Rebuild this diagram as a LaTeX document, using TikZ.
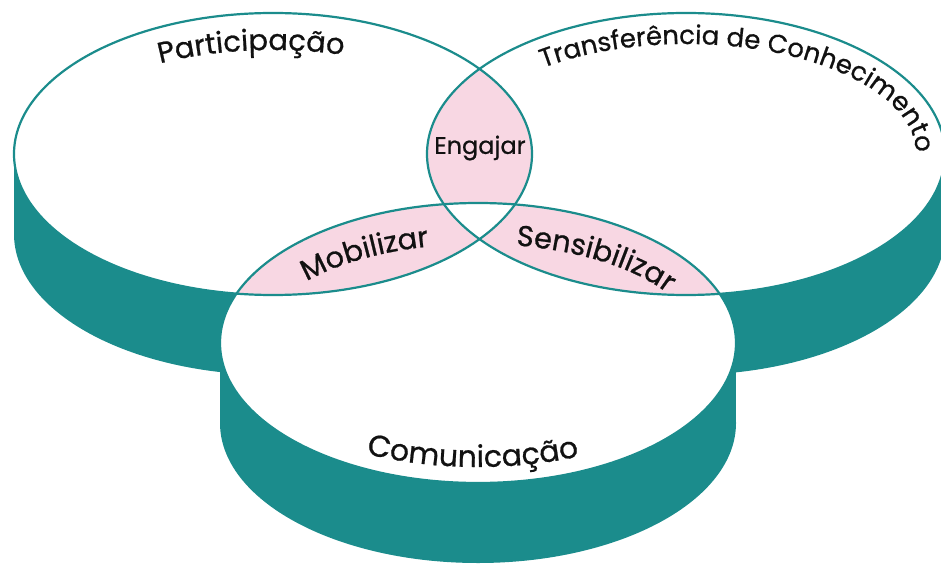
\documentclass[tikz,border=0pt]{standalone}
\usepackage{fontspec}
\setmainfont{Poppins}[FakeBold=0.7]
\usetikzlibrary{decorations.text}
\definecolor{tealc}{HTML}{1B8C8C}
\definecolor{pinkc}{HTML}{F8D7E3}
\definecolor{inkc}{HTML}{111111}
\newcommand\bigfont{\fontsize{29}{33}\selectfont}
\newcommand\combfont{\fontsize{30}{34}\selectfont}
\newcommand\trfont{\fontsize{26}{30}\selectfont}
\newcommand\smallfont{\fontsize{24}{28}\selectfont}
\begin{document}
\begin{tikzpicture}[x=1pt,y=1pt,
  wall/.style={fill=tealc},
  face/.style={fill=white},
  rim/.style={draw=tealc,line width=2.2pt},
  lens/.style={fill=pinkc},
  arctext/.style={decorate,decoration={text along path,text align=left,text color=inkc}}]
\useasboundingbox (0,0) rectangle (941,563);
\clip (0,0) rectangle (941,563);
\coordinate (L) at (273,409);
\coordinate (R) at (686,409);
\coordinate (B) at (478,220);
% walls
\fill[wall] (14,329) rectangle (532,409);
\fill[wall] ([yshift=-80pt]L) ellipse [x radius=259,y radius=141];
\fill[wall] (427,329) rectangle (945,409);
\fill[wall] ([yshift=-80pt]R) ellipse [x radius=259,y radius=141];
\fill[wall] (220,140) rectangle (736,220);
\fill[wall] ([yshift=-80pt]B) ellipse [x radius=258,y radius=140];
% faces
\fill[face] (L) ellipse [x radius=259,y radius=141];
\fill[face] (R) ellipse [x radius=259,y radius=141];
\fill[face] (B) ellipse [x radius=258,y radius=140];
% lenses
\begin{scope}
  \clip (L) ellipse [x radius=259,y radius=141];
  \fill[lens] (R) ellipse [x radius=259,y radius=141];
  \fill[lens] (B) ellipse [x radius=258,y radius=140];
\end{scope}
\begin{scope}
  \clip (R) ellipse [x radius=259,y radius=141];
  \fill[lens] (B) ellipse [x radius=258,y radius=140];
\end{scope}
\begin{scope}
  \clip (L) ellipse [x radius=259,y radius=141];
  \clip (R) ellipse [x radius=259,y radius=141];
  \fill[face] (B) ellipse [x radius=258,y radius=140];
\end{scope}
% rims
\draw[rim] (L) ellipse [x radius=259,y radius=141];
\draw[rim] (R) ellipse [x radius=259,y radius=141];
\draw[rim] (B) ellipse [x radius=258,y radius=140];
% labels
\path[arctext,decoration={text={|\bigfont|Participação}}]
  (L) ++(119.4:230 and 104) arc[start angle=119.4,end angle=10,x radius=230,y radius=104];
\path[arctext,decoration={text={|\trfont|Transferência de Conhecimento}}]
  (R) ++(128.4:230 and 110) arc[start angle=128.4,end angle=-40,x radius=230,y radius=110];
\path[arctext,decoration={text={|\combfont|Comunicação}}]
  (B) ++(243.4:250 and 124) arc[start angle=243.4,end angle=340,x radius=250,y radius=124];
\path[arctext,decoration={text={|\bigfont|Mobilizar}}]
  (B) ++(141.5:219 and 99) arc[start angle=141.5,end angle=75,x radius=219,y radius=99];
\path[arctext,decoration={text={|\bigfont|Sensibilizar}}]
  (B) ++(80:219 and 99) arc[start angle=80,end angle=10,x radius=219,y radius=99];
\node[font=\smallfont,text=inkc] (eng) at (480,415) {Engajar};
\end{tikzpicture}
\end{document}
